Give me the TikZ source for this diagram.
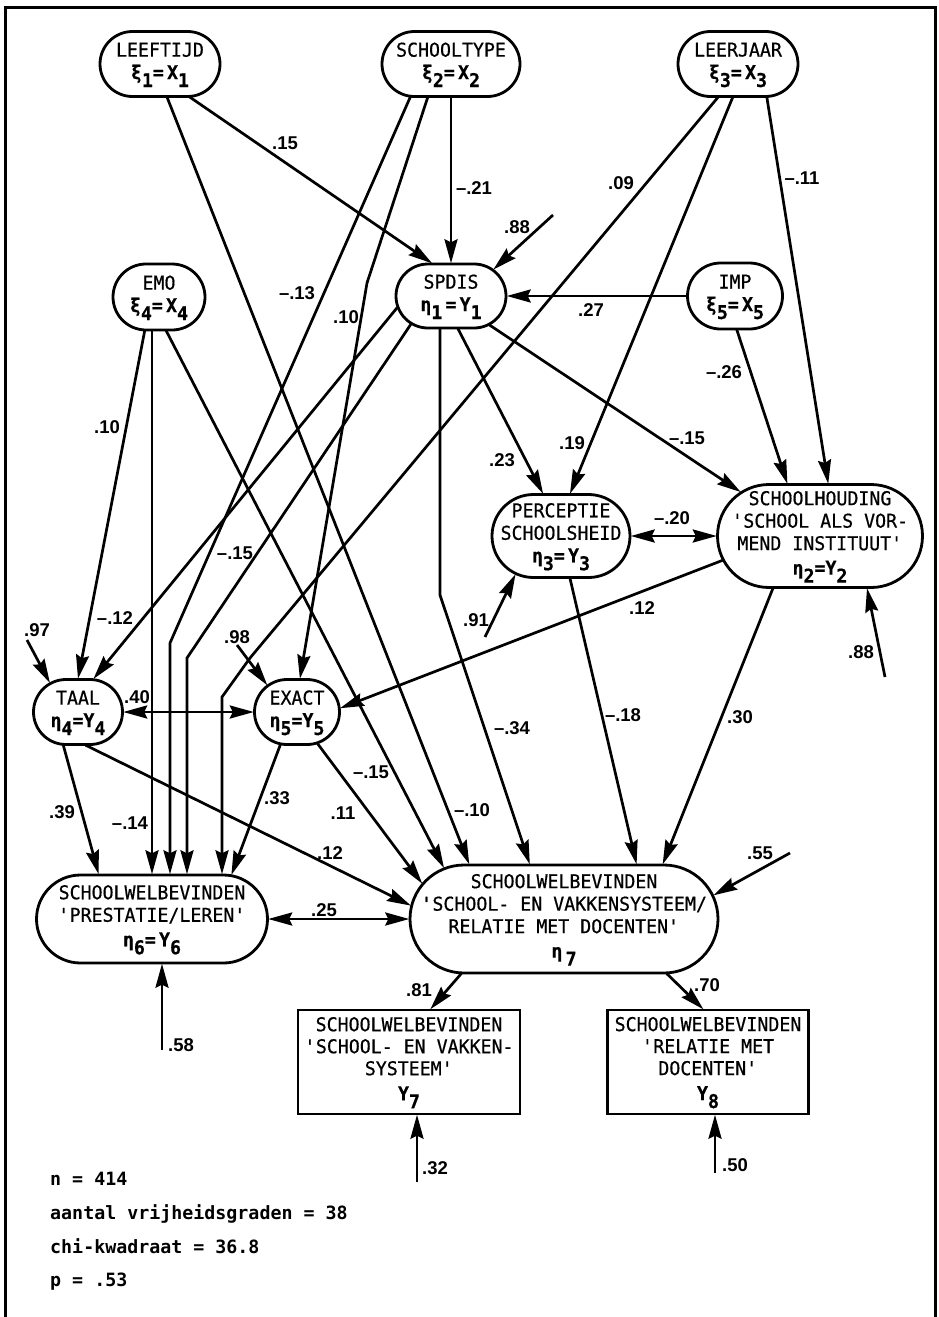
\documentclass[tikz,border=0pt]{standalone}
\usepackage{fontspec}
\usetikzlibrary{arrows.meta,shapes.misc}
\newfontfamily\plotfont{DejaVu Sans Mono}[FakeStretch=0.96,FakeBold=0.6]
\newfontfamily\notefont{DejaVu Sans Mono}
\newfontfamily\coeffont{Liberation Sans}
% lowered index digit, as in the plotted labels
\newcommand\ix[1]{\raisebox{-0.42em}{#1}}
\newcommand\q{\textquotesingle}
% centred block of lines that adds no width to its node
\newcommand\nodelines[1]{\makebox[0pt]{\begin{tabular}{@{}c@{}}#1\end{tabular}}}

\begin{document}
\begin{tikzpicture}[x=1pt,y=-1pt,
  latent/.style={rounded rectangle, draw, line width=2.8pt, inner sep=0pt, outer sep=0.7pt,
    font=\plotfont\fontsize{19}{22.5}\selectfont},
  observed/.style={rectangle, draw, line width=2.8pt, inner sep=0pt, outer sep=0.7pt,
    font=\plotfont\fontsize{19}{22}\selectfont},
  coef/.style={inner sep=0pt, font=\coeffont\bfseries\fontsize{18.5}{18.5}\selectfont},
  note/.style={inner sep=0pt, anchor=base west, font=\notefont\bfseries\fontsize{18.3}{20}\selectfont},
  tipshape/.style={-{Stealth[length=24pt,width=13pt,inset=3pt]}},
  effect/.style={line width=2.7pt, tipshape},
  corr/.style={line width=2.7pt, {Stealth[length=24pt,width=13pt,inset=3pt]}-{Stealth[length=24pt,width=13pt,inset=3pt]}},
]
\useasboundingbox (0,0) rectangle (939,1317);

% frame
\draw[line width=3pt] (5,1330) -- (5,7) -- (935,7) -- (935,1330);

% exogenous variables
\node[latent, minimum width=120pt, minimum height=65pt] (ltd) at (160,64)
  {\nodelines{LEEFTIJD\\ \bfseries ξ\ix{1}=\,X\ix{1}}};
\node[latent, minimum width=138pt, minimum height=65pt] (sty) at (451,64)
  {\nodelines{SCHOOLTYPE\\ \bfseries ξ\ix{2}=\,X\ix{2}}};
\node[latent, minimum width=120pt, minimum height=65pt] (lrj) at (738,64)
  {\nodelines{LEERJAAR\\ \bfseries ξ\ix{3}=\,X\ix{3}}};
\node[latent, minimum width=92pt, minimum height=66pt] (emo) at (159,297)
  {\nodelines{EMO\\ \bfseries ξ\ix{4}=\,X\ix{4}}};
\node[latent, minimum width=95pt, minimum height=66pt] (imp) at (735,296)
  {\nodelines{IMP\\ \bfseries ξ\ix{5}=\,X\ix{5}}};

% endogenous variables
\node[latent, minimum width=110pt, minimum height=64pt] (spd) at (451,296)
  {\nodelines{SPDIS\\ \bfseries η\ix{1}\,=\,Y\ix{1}}};
\node[latent, minimum width=138pt, minimum height=83pt] (per) at (561,536)
  {\nodelines{PERCEPTIE\\SCHOOLSHEID\\ \bfseries η\ix{3}=\,Y\ix{3}}};
\node[latent, minimum width=205pt, minimum height=103pt] (shd) at (820,536)
  {\nodelines{SCHOOLHOUDING\\\q SCHOOL ALS VOR-\\MEND INSTITUUT\q\\[2pt] \bfseries η\ix{2}=Y\ix{2}}};
\node[latent, minimum width=89pt, minimum height=65pt] (taal) at (78,712)
  {\nodelines{TAAL\\ \bfseries η\ix{4}=Y\ix{4}}};
\node[latent, minimum width=85pt, minimum height=65pt] (exact) at (297,712)
  {\nodelines{EXACT\\ \bfseries η\ix{5}=Y\ix{5}}};
\node[latent, minimum width=231pt, minimum height=88pt] (eta6) at (152,919)
  {\nodelines{SCHOOLWELBEVINDEN\\\q PRESTATIE/LEREN\q\\[2pt] \bfseries η\ix{6}=\,Y\ix{6}}};
\node[latent, minimum width=308pt, minimum height=108pt] (eta7) at (564,919)
  {\nodelines{SCHOOLWELBEVINDEN\\\q SCHOOL- EN VAKKENSYSTEEM/\\RELATIE MET DOCENTEN\q\\[2pt] \bfseries η\,\ix{7}}};

% indicators
\node[observed, minimum width=222pt, minimum height=104pt] (y7) at (409,1062)
  {\nodelines{SCHOOLWELBEVINDEN\\\q SCHOOL- EN VAKKEN-\\SYSTEEM\q\\[3pt] \bfseries Y\ix{7}}};
\node[observed, minimum width=201pt, minimum height=104pt] (y8) at (708,1062)
  {\nodelines{SCHOOLWELBEVINDEN\\\q RELATIE MET\\DOCENTEN\q\\[3pt] \bfseries Y\ix{8}}};

% bends and free ends of residual arrows
\coordinate (b1) at (170,643);
\coordinate (b2) at (367,283);
\coordinate (b3) at (250,658);
\coordinate (b4) at (222,697);
\coordinate (b5) at (187,658);
\coordinate (b6) at (440,595);
\coordinate (r88a) at (553,215);
\coordinate (r88b) at (885,677);
\coordinate (r91) at (485,637);
\coordinate (r97) at (27,640);
\coordinate (r98) at (237,645);
\coordinate (r58) at (162,1050);
\coordinate (r55) at (790,853);
\coordinate (r32) at (417,1182);
\coordinate (r50) at (715,1173);

% paths from LEEFTIJD
\draw[effect] (ltd.-48) -- (spd.120);
\draw[effect] (ltd.-78) -- (eta7.150);
% paths from SCHOOLTYPE
\draw[effect] (sty.south) -- (spd.north);
\draw[effect] (sty.219) -- (b1) -- (b1 |- eta6.north);
\draw[effect] (sty.235) -- (b2) -- (exact.85);
% paths from LEERJAAR
\draw[effect] (lrj.239) -- (b3) -- (b4) -- (b4 |- eta6.north);
\draw[effect] (lrj.261) -- (per.78);
\draw[effect] (lrj.-49) -- (shd.81);
% paths from EMO
\draw[effect] (emo.247) -- (taal.north);
\draw[effect] (eta6.north |- emo.south) -- (eta6.north);
\draw[effect] (emo.-78) -- (eta7.157);
% paths from IMP
\draw[effect] (imp.west) -- (spd.east);
\draw[effect] (imp.-87) -- (shd.122);
% paths from SPDIS
\draw[effect] (spd.192) -- (taal.65);
\draw[effect] (spd.215) -- (b5) -- (b5 |- eta6.north);
\draw[effect] (spd.south -| b6) -- (b6) -- (eta7.122);
\draw[effect] (spd.-78) -- (per.113);
\draw[effect] (spd.-37) -- (shd.151);
% PERCEPTIE and SCHOOLHOUDING
\draw[corr] (per.east) -- (shd.west);
\draw[effect] (per.-78) -- (eta7.37);
\draw[effect] (shd.194) -- (exact.5);
\draw[effect] (shd.228) -- (eta7.29);
% TAAL and EXACT
\draw[corr] (taal.east) -- (exact.west);
\draw[effect] (taal.246) -- (eta6.140);
\draw[effect] (taal.-77) -- (eta7.175);
\draw[effect] (exact.243) -- (eta6.29);
\draw[effect] (exact.-57) -- (eta7.166);
% well-being
\draw[corr] (eta6.east) -- (eta7.west);
\draw[effect] (eta7.208) -- (y7.68);
\draw[effect] (eta7.-28) -- (y8.95);
% residuals
\draw[effect] (r88a) -- (spd.32);
\draw[effect] (r88b) -- (shd.-48);
\draw[effect] (r91) -- (per.220);
\draw[effect] (r97) -- (taal.134);
\draw[effect] (r98) -- (exact.138);
\draw[effect] (r58) -- (r58 |- eta6.south);
\draw[effect] (r55) -- (eta7.9);
\draw[effect] (r32) -- (r32 |- y7.south);
\draw[effect] (r50) -- (r50 |- y8.south);

% coefficients
\node[coef] (c15) at (285,143) {.15};
\node[coef] (c21) at (474,188) {–.21};
\node[coef] (c13) at (297,293) {–.13};
\node[coef] (c10a) at (346,317) {.10};
\node[coef] (c09) at (621,183) {.09};
\node[coef] (c11a) at (802,178) {–.11};
\node[coef] (c88a) at (517,227) {.88};
\node[coef] (c27) at (591,310) {.27};
\node[coef] (c10b) at (107,427) {.10};
\node[coef] (c15b) at (235,553) {–.15};
\node[coef] (c12a) at (115,618) {–.12};
\node[coef] (c97) at (37,630) {.97};
\node[coef] (c98) at (237,637) {.98};
\node[coef] (c26) at (724,372) {–.26};
\node[coef] (c19) at (572,443) {.19};
\node[coef] (c23) at (502,460) {.23};
\node[coef] (c15c) at (687,438) {–.15};
\node[coef] (c20) at (672,518) {–.20};
\node[coef] (c12b) at (642,608) {.12};
\node[coef] (c91) at (476,620) {.91};
\node[coef] (c88b) at (861,652) {.88};
\node[coef] (c40) at (137,697) {.40};
\node[coef] (c39) at (62,812) {.39};
\node[coef] (c14) at (130,823) {–.14};
\node[coef] (c33) at (277,798) {.33};
\node[coef] (c15d) at (371,772) {–.15};
\node[coef] (c11b) at (343,813) {.11};
\node[coef] (c12c) at (330,853) {.12};
\node[coef] (c25) at (324,910) {.25};
\node[coef] (c10c) at (472,810) {–.10};
\node[coef] (c34) at (512,728) {–.34};
\node[coef] (c18) at (623,715) {–.18};
\node[coef] (c30) at (740,717) {.30};
\node[coef] (c55) at (760,853) {.55};
\node[coef] (c81) at (419,990) {.81};
\node[coef] (c70) at (707,985) {.70};
\node[coef] (c58) at (181,1045) {.58};
\node[coef] (c32) at (435,1168) {.32};
\node[coef] (c50) at (735,1165) {.50};

% fit statistics
\node[note] (n1) at (50,1185) {n = 414};
\node[note] (n2) at (50,1219) {aantal vrijheidsgraden = 38};
\node[note] (n3) at (50,1253) {chi-kwadraat = 36.8};
\node[note] (n4) at (50,1286) {p = .53};
\end{tikzpicture}
\end{document}
